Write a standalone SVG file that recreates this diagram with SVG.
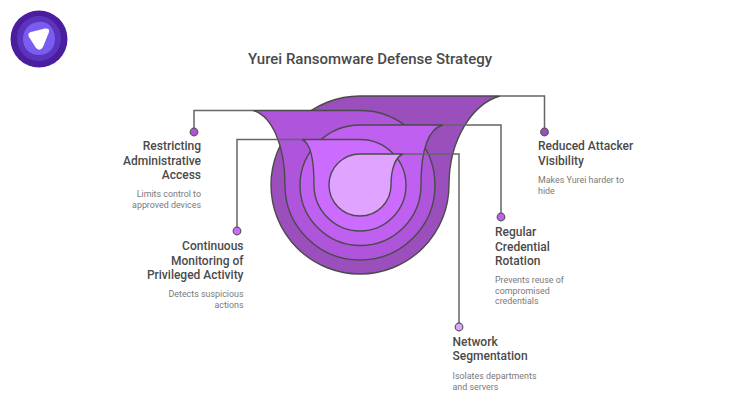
<svg xmlns="http://www.w3.org/2000/svg" width="740" height="420" viewBox="0 0 740 420">
<style>
text{font-family:Roboto,"Liberation Sans",sans-serif}
.t{font-size:12px;font-weight:500;fill:#4a4a4a}
.d{font-size:8.900px;fill:#7a7a7a}
.e{text-anchor:end}
.s{stroke:#4a4a4a;stroke-width:1.4}
.c{fill:none;stroke:#666;stroke-width:1.5}
.p{stroke:#555;stroke-width:1.2}
</style>
<rect width="740" height="420" fill="#fff"/>
<g id="logo">
<circle cx="39" cy="39" r="28.500" fill="#4a1e9e"/>
<path d="M38 16C50 15 61 26 61 38C61 51 51 61 39 61C26 61 17 51 17 38C17 26 26 17 38 16Z" fill="#5b34bd"/>
<path d="M38 22C49 20 55 30 55 39C55 49 48 55 39 55C29 55 23 48 23 39C23 30 29 23 38 22Z" fill="#7a5cf0"/>
<path d="M31 32L45 28.500Q50 28 49 32L43 47Q40 52 36 48L29 37Q27 33 31 32Z" fill="#fff"/>
</g>
<text id="title" x="370" y="64" text-anchor="middle" style="font-size:15px;font-weight:500;fill:#4a4a4a">Yurei Ransomware Defense Strategy</text>
<g id="funnel">
<path id="layer1" class="s" fill="#9a4fbd" d="M500 96C472 104 449 140 449 185A89 89 0 0 1 271 185A89 89 0 0 1 360 96Z"/>
<path id="layer2" class="s" fill="#af55dc" d="M253 110.500C272 116 285 145 285 185A75 75 0 0 0 435 185A75 75 0 0 0 360 110.500Z"/>
<path id="layer3" class="s" fill="#bf60f0" d="M443 125C428 129 421 150 421 185A60.500 60.500 0 0 1 300 185A60.500 60.500 0 0 1 360 125Z"/>
<path id="layer4" class="s" fill="#cc6cff" d="M302 139.500C311 143 314 160 314 185A46 46 0 0 0 406 185A46 46 0 0 0 360 139.500Z"/>
<path id="layer5" class="s" fill="#e0a3ff" d="M403 154C395 157 391 170 391 185A31 31 0 0 1 329 185A31 31 0 0 1 360 154Z"/>
</g>
<g id="connectors">
<path class="c" d="M253 110.500H194V128"/>
<path class="c" d="M302 139.500H237V227"/>
<path class="c" d="M500 96H544.500V128"/>
<path class="c" d="M443 125H501V213"/>
<path class="c" d="M403 154H459V323"/>
</g>
<g id="node-restricting">
<circle class="p" cx="194" cy="132" r="3.800" fill="#af55dc"/>
<text class="t e" x="201" y="150">Restricting</text>
<text class="t e" x="201" y="164.500">Administrative</text>
<text class="t e" x="201" y="179">Access</text>
<text class="d e" x="201" y="197">Limits control to</text>
<text class="d e" x="201" y="208">approved devices</text>
</g>
<g id="node-monitoring">
<circle class="p" cx="237" cy="231" r="3.800" fill="#cc6cff"/>
<text class="t e" x="243.500" y="250">Continuous</text>
<text class="t e" x="243.500" y="264.500">Monitoring of</text>
<text class="t e" x="243.500" y="279">Privileged Activity</text>
<text class="d e" x="243.500" y="297">Detects suspicious</text>
<text class="d e" x="243.500" y="308">actions</text>
</g>
<g id="node-visibility">
<circle class="p" cx="544.500" cy="132" r="3.800" fill="#9a4fbd"/>
<text class="t" x="538" y="150">Reduced Attacker</text>
<text class="t" x="538" y="164.500">Visibility</text>
<text class="d" x="538" y="183">Makes Yurei harder to</text>
<text class="d" x="538" y="194">hide</text>
</g>
<g id="node-rotation">
<circle class="p" cx="501" cy="217" r="3.800" fill="#bf60f0"/>
<text class="t" x="495" y="236">Regular</text>
<text class="t" x="495" y="250.500">Credential</text>
<text class="t" x="495" y="265">Rotation</text>
<text class="d" x="495" y="283">Prevents reuse of</text>
<text class="d" x="495" y="294">compromised</text>
<text class="d" x="495" y="304">credentials</text>
</g>
<g id="node-segmentation">
<circle class="p" cx="459" cy="327" r="3.800" fill="#e0a3ff"/>
<text class="t" x="452.500" y="346">Network</text>
<text class="t" x="452.500" y="360">Segmentation</text>
<text class="d" x="452.500" y="379">Isolates departments</text>
<text class="d" x="452.500" y="390">and servers</text>
</g>
</svg>
